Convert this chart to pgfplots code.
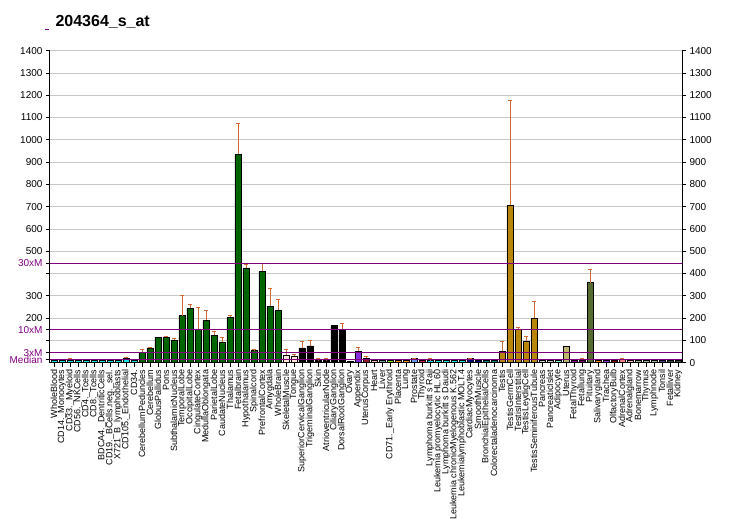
\documentclass[border=0pt]{standalone}
\usepackage{fontspec}
\setmainfont{Liberation Sans}
\usepackage{pgfplots}
\pgfplotsset{compat=1.18}
\definecolor{errc}{RGB}{204,108,52}
\definecolor{medc}{RGB}{128,0,128}
\definecolor{gridc}{RGB}{200,200,200}
\definecolor{cyanb}{RGB}{0,230,230}
\definecolor{greenb}{RGB}{0,100,0}
\definecolor{roseb}{RGB}{255,228,215}
\definecolor{gold}{RGB}{184,134,11}
\definecolor{violetb}{RGB}{138,43,226}
\definecolor{uterusc}{RGB}{150,25,40}
\definecolor{heartc}{RGB}{250,190,150}
\definecolor{liverc}{RGB}{95,158,160}
\definecolor{limec}{RGB}{124,252,0}
\definecolor{orangec}{RGB}{255,140,0}
\definecolor{cornc}{RGB}{100,149,237}
\definecolor{crimc}{RGB}{220,20,60}
\definecolor{navyc}{RGB}{0,0,128}
\definecolor{tealc}{RGB}{0,128,128}
\definecolor{lgrayc}{RGB}{200,200,200}
\definecolor{aquac}{RGB}{127,255,212}
\definecolor{khakic}{RGB}{189,183,107}
\definecolor{magc}{RGB}{139,0,139}
\definecolor{oliveb}{RGB}{85,107,47}
\definecolor{dredc}{RGB}{139,0,0}
\definecolor{lcoralc}{RGB}{240,128,128}
\definecolor{lpinkc}{RGB}{255,182,193}
\definecolor{seagc}{RGB}{143,188,143}
\definecolor{slatebc}{RGB}{72,61,139}
\definecolor{slategc}{RGB}{47,79,79}
\pgfplotsset{
  mybar/.style={ybar, bar width=6pt, bar shift=0pt, draw=black, line width=0.9pt, fill=#1, forget plot},
}
\begin{document}
\begin{tikzpicture}[x=1pt,y=1pt]
\useasboundingbox (0,0) rectangle (732,530);
\node[anchor=base west, font=\bfseries\fontsize{16}{19}\selectfont] at (52,503) {204364\_s\_at};
\draw[medc, line width=0.8pt] (45,500.5) -- (49,500.5);
\begin{axis}[
  at={(50pt,167.3pt)}, anchor=south west,
  scale only axis, width=632pt, height=312pt,
  xmin=0.5, xmax=79.5, ymin=0, ymax=1400,
  axis x line*=bottom, axis y line*=left,
  axis line style={line width=1pt},
  tick align=outside, major tick length=4pt,
  tick style={black, line width=0.9pt},
  ytick={100,200,...,1400},
  yticklabels={,200,300,,500,600,700,800,900,1000,1100,1200,1300,1400},
  yticklabel style={font=\fontsize{10}{12}\selectfont},
  ymajorgrids, grid style={gridc, line width=0.8pt},
  extra y ticks={13,44.5,148,445},
  extra y tick labels={Median,3xM,10xM,30xM},
  extra y tick style={grid=none, tick label style={text=medc}},
  xtick={1,...,79},
  xticklabels={WholeBlood,CD14.\_Monocytes,CD33.\_Myeloid,CD56.\_NKCells,CD4.\_Tcells,CD8.\_Tcells,BDCA4.\_DentriticCells,CD19.\_BCells.neg.\_sel.,X721\_B\_lymphoblasts,CD105.\_Endothelial,CD34.,CerebellumPeduncles,Cerebellum,GlobusPallidus,Pons,SubthalamicNucleus,TemporalLobe,OccipitalLobe,CingulateCortex,MedullaOblongata,ParietalLobe,CaudateNucleus,Thalamus,Fetalbrain,Hypothalamus,Spinalcord,PrefrontalCortex,Amygdala,WholeBrain,SkeletalMuscle,Tongue,SuperiorCervicalGanglion,TrigeminalGanglion,Skin,AtrioventricularNode,CiliaryGanglion,DorsalRootGanglion,Ovary,Appendix,UterusCorpus,Heart,Liver,CD71.\_Early Erythroid,Placenta,Lung,Prostate,Thyroid,Lymphoma burkitt s Raji,Leukemia promyelocytic HL.60,Lymphoma burkitt s Daudi,Leukemia chronicMyelogenous K.562,Leukemialymphoblastic MOLT.4,CardiacMyocytes,SmoothMuscle,BronchialEpithelialCells,Colorectaladenocarcinoma,Testis,TestisGermCell,TestisInterstitial,TestisLeydigCell,TestisSeminiferousTubule,Pancreas,PancreaticIslet,Adipocyte,Uterus,FetalThyroid,Fetallung,Pituitary,Salivarygland,Trachea,OlfactoryBulb,AdrenalCortex,Adrenalgland,Bonemarrow,Thymus,Lymphnode,Tonsil,Fetalliver,Kidney},
  xticklabel style={rotate=90, anchor=east, font=\fontsize{9}{10}\selectfont, inner sep=3pt},
  clip=false,
]
\addplot[mybar=cyanb] coordinates {(1,9) (2,8) (3,10) (4,8) (5,8) (6,8) (7,9) (8,8) (9,8) (10,20) (11,8)
  (48,9) (49,8) (50,11) (51,8) (52,8)};
\addplot[mybar=greenb] coordinates {(12,47) (13,66) (14,115) (15,115) (16,102) (17,210) (18,245) (19,151)
  (20,191) (21,124) (22,93) (23,205) (24,936) (25,425) (26,57) (27,411) (28,254) (29,236)};
\addplot[mybar=roseb] coordinates {(30,33) (31,29)};
\addplot[mybar=black] coordinates {(32,66) (33,75) (34,9) (35,9) (36,165) (37,151) (38,5)};
\addplot[mybar=violetb] coordinates {(39,52) (70,8)};
\addplot[mybar=uterusc] coordinates {(40,21)};
\addplot[mybar=heartc] coordinates {(41,8)};
\addplot[mybar=liverc] coordinates {(42,8)};
\addplot[mybar=limec] coordinates {(43,8)};
\addplot[mybar=orangec] coordinates {(44,8) (45,8) (69,8)};
\addplot[mybar=cornc] coordinates {(46,17)};
\addplot[mybar=crimc] coordinates {(47,8)};
\addplot[mybar=navyc] coordinates {(53,17) (54,8)};
\addplot[mybar=tealc] coordinates {(55,8) (56,8)};
\addplot[mybar=gold] coordinates {(57,52) (58,706) (59,150) (60,96) (61,199)};
\addplot[mybar=lgrayc] coordinates {(62,8) (63,8)};
\addplot[mybar=aquac] coordinates {(64,8)};
\addplot[mybar=khakic] coordinates {(65,73)};
\addplot[mybar=magc] coordinates {(66,8) (67,10)};
\addplot[mybar=oliveb] coordinates {(68,358)};
\addplot[mybar=dredc] coordinates {(71,8)};
\addplot[mybar=lcoralc] coordinates {(72,15)};
\addplot[mybar=lpinkc] coordinates {(73,8)};
\addplot[mybar=seagc] coordinates {(74,8) (75,8) (76,8)};
\addplot[mybar=slatebc] coordinates {(77,8)};
\addplot[mybar=slategc] coordinates {(78,8) (79,8)};
% error bars (upper only)
\addplot[draw=none, forget plot,
  error bars/.cd, y dir=plus, y explicit,
  error bar style={draw=errc, line width=0.9pt},
  error mark options={draw=errc, rotate=90, mark size=2.2pt, line width=0.9pt}]
  table[x=x, y=y, y error=e] {
x y e
3 10 7
10 20 5
12 47 13
13 66 3
15 115 3
16 102 5
17 210 92
18 245 17
19 151 97
20 191 44
21 124 18
22 93 21
23 205 9
24 936 138
25 425 16
26 57 1
27 411 35
28 254 80
29 236 48
30 33 27
31 29 10
32 66 30
33 75 27
34 9 8
35 9 12
37 151 27
39 52 17
40 21 9
46 17 3
48 9 8
53 17 3
57 52 45
58 706 471
59 150 9
60 96 22
61 199 76
67 10 7
68 358 61
72 15 5
};
% median multiples
\addplot[medc, line width=1pt, forget plot] coordinates {(0.5,445) (79.5,445)};
\addplot[medc, line width=1pt, forget plot] coordinates {(0.5,148) (79.5,148)};
\addplot[medc, line width=1pt, forget plot] coordinates {(0.5,44.5) (79.5,44.5)};
\addplot[medc, line width=1pt, forget plot] coordinates {(0.5,13) (79.5,13)};
\end{axis}
\begin{axis}[
  at={(50pt,167.3pt)}, anchor=south west,
  scale only axis, width=632pt, height=312pt,
  xmin=0.5, xmax=79.5, ymin=0, ymax=1400,
  axis x line=none, axis y line*=right,
  axis line style={line width=1pt},
  tick align=outside, major tick length=4pt,
  tick style={black, line width=0.9pt},
  ytick={0,100,...,1400},
  yticklabels={0,100,200,300,400,500,600,700,800,900,1000,1100,1200,1300,1400},
  yticklabel style={font=\fontsize{10}{12}\selectfont},
]
\end{axis}
\end{tikzpicture}
\end{document}
